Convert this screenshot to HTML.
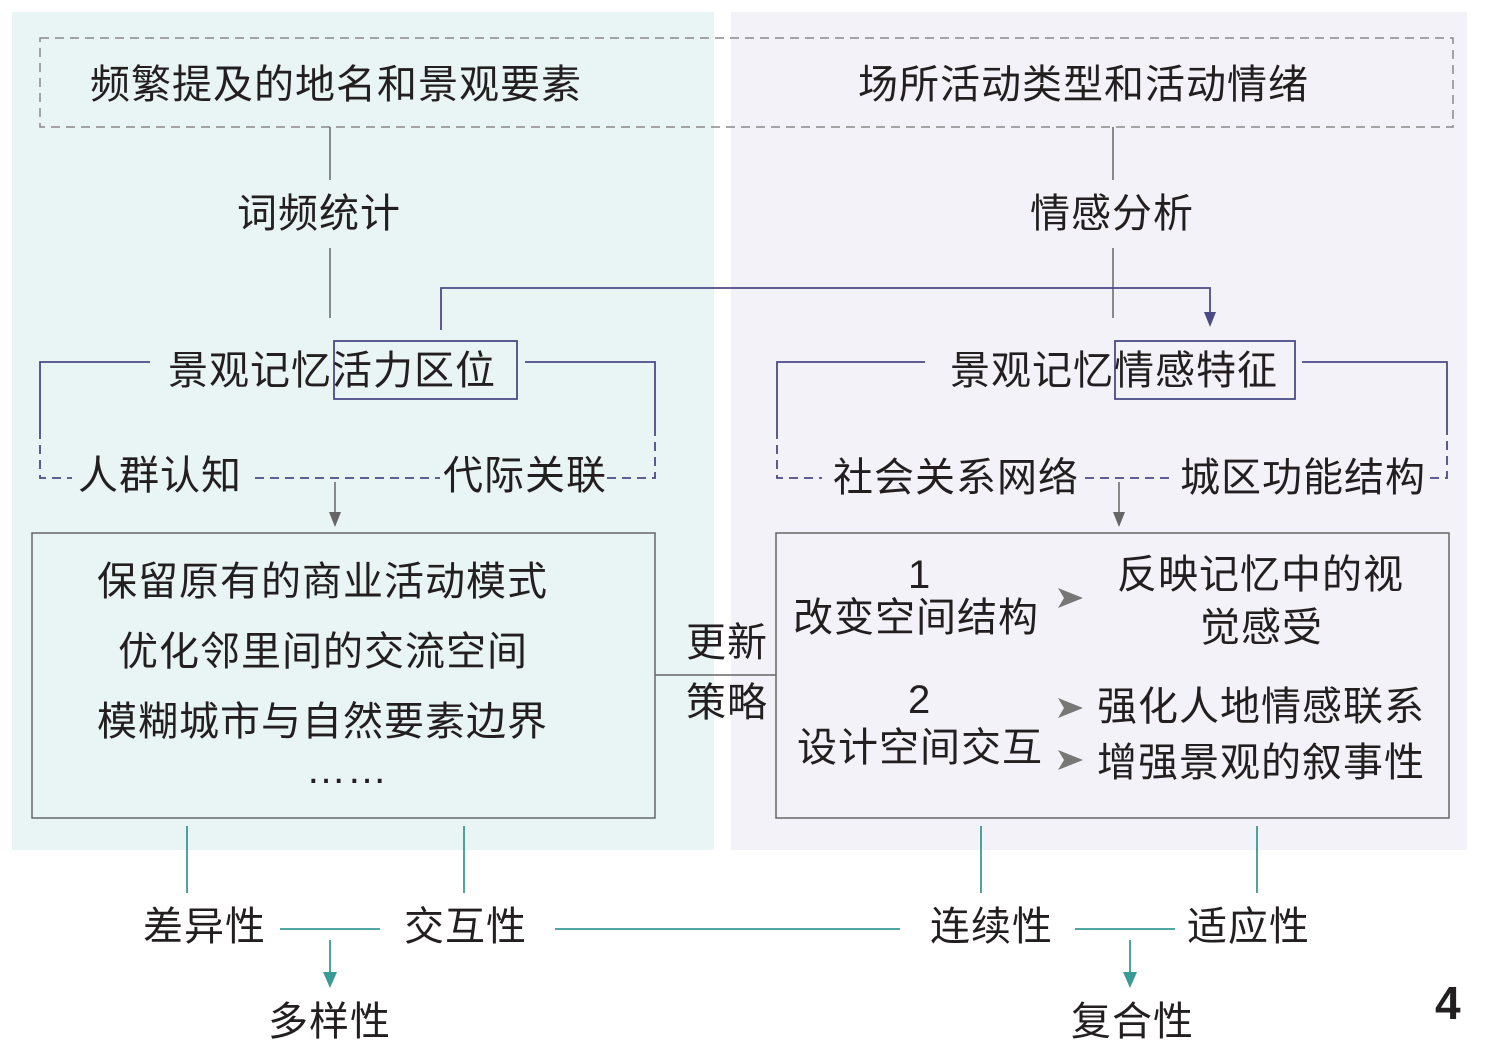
<!DOCTYPE html>
<html><head><meta charset="utf-8"><style>
html,body{margin:0;padding:0;background:#fff}
#c{position:relative;width:1488px;height:1047px;overflow:hidden;background:#fff}
.t{position:absolute;font-family:"Liberation Sans","Noto Sans CJK SC",sans-serif;font-size:40px;letter-spacing:1px;color:#231f20;white-space:nowrap;line-height:1;transform:translateY(-50%)}
svg{position:absolute;left:0;top:0}
</style></head><body><div id="c">
<svg width="1488" height="1047">
<rect x="12" y="12" width="702" height="838" fill="#e9f4f5"/>
<rect x="731" y="12" width="736" height="838" fill="#f3f2f8"/>
<rect x="40" y="38" width="1413" height="89" fill="none" stroke="#8a8a8a" stroke-width="1.5" stroke-dasharray="9,6"/>
<g stroke="#666" stroke-width="1.5" fill="none">
<line x1="330" y1="127" x2="330" y2="180"/><line x1="330" y1="248" x2="330" y2="318"/>
<line x1="1113" y1="127" x2="1113" y2="180"/><line x1="1113" y1="248" x2="1113" y2="318"/>
<rect x="32" y="533" width="623" height="285"/>
<rect x="776" y="533" width="673" height="285"/>
<line x1="655" y1="675" x2="776" y2="675"/>
<line x1="335" y1="482" x2="335" y2="515"/>
<line x1="1119" y1="482" x2="1119" y2="515"/>
</g>
<polygon points="329,512 341,512 335,527" fill="#666"/>
<polygon points="1113,512 1125,512 1119,527" fill="#666"/>
<g stroke="#4c4a86" stroke-width="1.8" fill="none">
<polyline points="441,330 441,288 1210,288 1210,315"/>
<rect x="334" y="341" width="183" height="58"/>
<rect x="1115" y="341" width="180" height="58"/>
<polyline points="150,362 40,362 40,430"/>
<polyline points="525,362 655,362 655,430"/>
<polyline points="925,362 777,362 777,430"/>
<polyline points="1302,362 1447,362 1447,430"/>
</g>
<polygon points="1204,312 1216,312 1210,327" fill="#4c4a86"/>
<g stroke="#4c4a86" stroke-width="1.8" fill="none" stroke-dasharray="9,6">
<polyline points="40,430 40,478 72,478"/>
<line x1="255" y1="478" x2="440" y2="478"/>
<polyline points="607,478 655,478 655,430"/>
<polyline points="777,430 777,478 822,478"/>
<line x1="1085" y1="478" x2="1170" y2="478"/>
<polyline points="1430,478 1447,478 1447,430"/>
</g>
<g fill="#777">
<polygon points="1058,588 1083,598 1058,608 1064,598"/>
<polygon points="1058,698 1083,708 1058,718 1064,708"/>
<polygon points="1058,750 1083,760 1058,770 1064,760"/>
</g>
<g stroke="#3a9a94" stroke-width="1.8">
<line x1="187" y1="826" x2="187" y2="893"/><line x1="464" y1="826" x2="464" y2="893"/>
<line x1="981" y1="826" x2="981" y2="893"/><line x1="1257" y1="826" x2="1257" y2="893"/>
<line x1="280" y1="929" x2="380" y2="929"/><line x1="555" y1="929" x2="900" y2="929"/>
<line x1="1075" y1="929" x2="1175" y2="929"/>
<line x1="330" y1="940" x2="330" y2="975"/><line x1="1130" y1="940" x2="1130" y2="975"/>
</g>
<polygon points="323,972 337,972 330,988" fill="#3a9a94"/>
<polygon points="1123,972 1137,972 1130,988" fill="#3a9a94"/>
</svg>
<div class="t" style="left:90px;top:85px">频繁提及的地名和景观要素</div>
<div class="t" style="left:858px;top:85px">场所活动类型和活动情绪</div>
<div class="t" style="left:237px;top:214px">词频统计</div>
<div class="t" style="left:1030px;top:214px">情感分析</div>
<div class="t" style="left:168px;top:371px">景观记忆活力区位</div>
<div class="t" style="left:950px;top:371px">景观记忆情感特征</div>
<div class="t" style="left:78px;top:476px">人群认知</div>
<div class="t" style="left:443px;top:476px">代际关联</div>
<div class="t" style="left:833px;top:478px">社会关系网络</div>
<div class="t" style="left:1180px;top:478px">城区功能结构</div>
<div class="t" style="left:97px;top:582px">保留原有的商业活动模式</div>
<div class="t" style="left:118px;top:652px">优化邻里间的交流空间</div>
<div class="t" style="left:97px;top:722px">模糊城市与自然要素边界</div>
<div class="t" style="left:306px;top:770px">……</div>
<div class="t" style="left:686px;top:643px">更新</div>
<div class="t" style="left:686px;top:703px">策略</div>
<div class="t" style="left:908px;top:575px">1</div>
<div class="t" style="left:793px;top:618px">改变空间结构</div>
<div class="t" style="left:1117px;top:575px">反映记忆中的视</div>
<div class="t" style="left:1200px;top:628px">觉感受</div>
<div class="t" style="left:908px;top:700px">2</div>
<div class="t" style="left:797px;top:748px">设计空间交互</div>
<div class="t" style="left:1097px;top:707px">强化人地情感联系</div>
<div class="t" style="left:1097px;top:763px">增强景观的叙事性</div>
<div class="t" style="left:143px;top:927px">差异性</div>
<div class="t" style="left:404px;top:927px">交互性</div>
<div class="t" style="left:930px;top:927px">连续性</div>
<div class="t" style="left:1187px;top:927px">适应性</div>
<div class="t" style="left:268px;top:1022px">多样性</div>
<div class="t" style="left:1071px;top:1022px">复合性</div>
<div class="t" style="left:1435px;top:1003px;font-size:46px;font-weight:bold">4</div>
</div></body></html>
